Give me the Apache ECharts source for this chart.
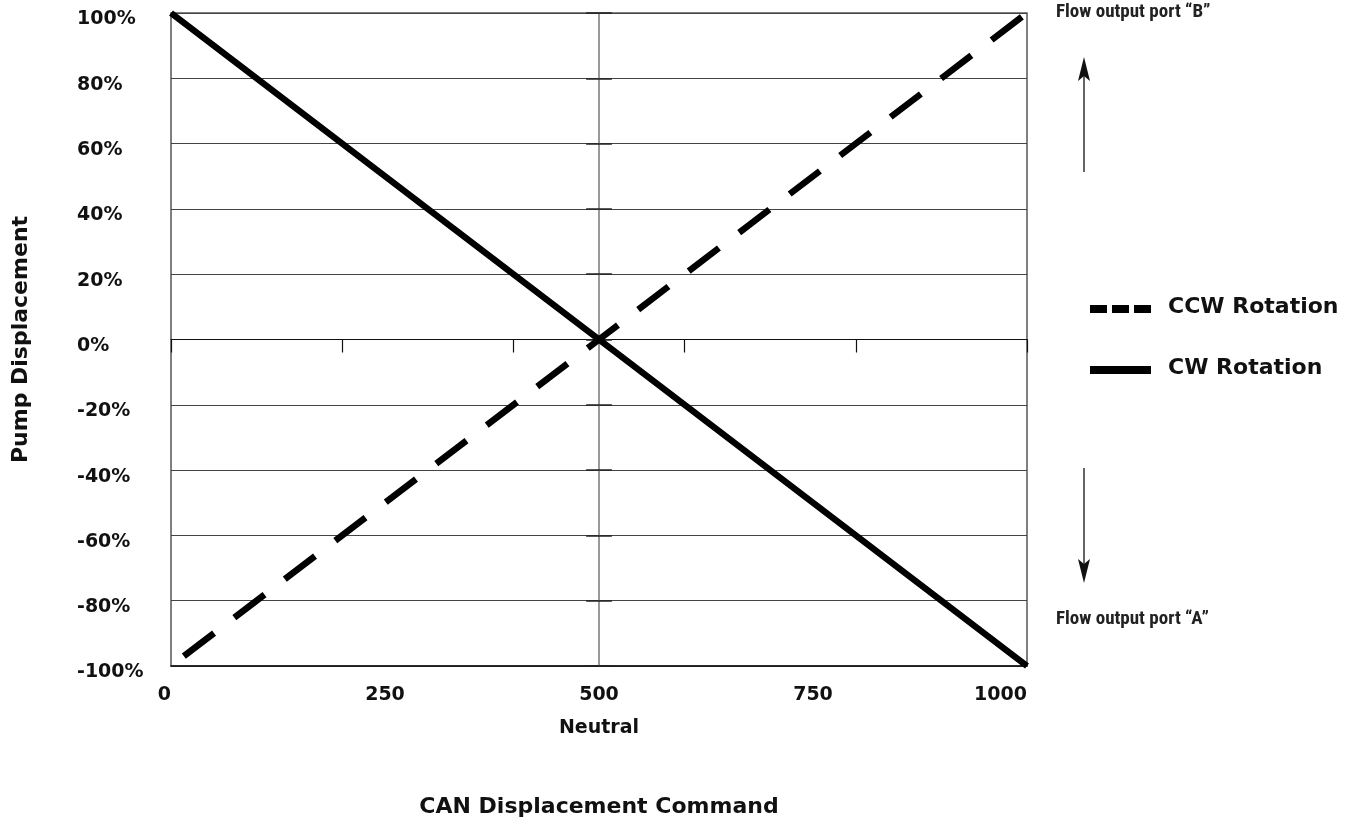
<!DOCTYPE html>
<html><head><meta charset="utf-8">
<script src="https://cdn.jsdelivr.net/npm/echarts@6/dist/echarts.min.js"></script>
<style>html,body{margin:0;padding:0;background:#fff}#c{width:1347px;height:824px}</style>
</head><body><div id="c"></div>
<script>
const seriesNames = ['CCW Rotation', 'CW Rotation'];
const ccwX = [15, 500, 1000];
const ccwY = [-97, 0, 100];
const cwX = [0, 500, 1000];
const cwY = [100, 0, -100];
const xTickLabels = [0, 250, 500, 750, 1000];
const yTickLabels = [-100, -80, -60, -40, -20, 0, 20, 40, 60, 80, 100];
const neutralValue = 500;
const neutralLabel = 'Neutral';
const xTitle = 'CAN Displacement Command';
const yTitle = 'Pump Displacement';
const portB = 'Flow output port \u201cB\u201d';
const portA = 'Flow output port \u201cA\u201d';

const FONT = '"DejaVu Sans", sans-serif';
const NARROW = '"Liberation Sans Narrow", "Roboto Condensed", sans-serif';
const chart = echarts.init(document.getElementById('c'));
const pair = (xs, ys) => xs.map((x, i) => [x, ys[i]]);
const neutralTicks = yTickLabels.map(v => [{ coord: [neutralValue - 15, v] }, { coord: [neutralValue + 15, v] }]);

chart.setOption({
  animation: false,
  grid: { left: 171, right: 320, top: 13, bottom: 158, show: true, borderColor: '#555', borderWidth: 1.5 },
  xAxis: [{
    type: 'value', min: xTickLabels[0], max: xTickLabels[xTickLabels.length - 1], interval: 250,
    axisLine: { onZero: false, lineStyle: { color: '#111', width: 1.5 } },
    axisTick: { show: false }, splitLine: { show: false },
    axisLabel: {
      margin: 13, fontFamily: FONT, fontWeight: 'bold', fontSize: 19, color: '#111', lineHeight: 33,
      alignMinLabel: 'right', alignMaxLabel: 'right',
      formatter: v => v === neutralValue ? v + '\n' + neutralLabel : String(v)
    },
    name: xTitle, nameLocation: 'middle', nameGap: 130,
    nameTextStyle: { fontFamily: FONT, fontWeight: 'bold', fontSize: 22, color: '#111' }
  }, {
    type: 'value', min: 0, max: 1000, interval: 200, position: 'bottom',
    axisLine: { show: true, onZero: true, lineStyle: { color: '#111', width: 1.2 } },
    axisTick: { show: true, inside: false, length: 13, lineStyle: { color: '#111', width: 1.2 } },
    axisLabel: { show: false }, splitLine: { show: false }
  }],
  yAxis: {
    type: 'value', min: yTickLabels[0], max: yTickLabels[yTickLabels.length - 1], interval: 20,
    axisLine: { show: false }, axisTick: { show: false },
    splitLine: { lineStyle: { color: '#444', width: 1.2 } },
    axisLabel: {
      margin: 94, align: 'left',
      formatter: v => '{a|' + v + '%}',
      rich: { a: { padding: [13, 0, 0, 0], fontFamily: FONT, fontWeight: 'bold', fontSize: 19, color: '#111', align: 'left' } }
    },
    name: yTitle, nameLocation: 'middle', nameGap: 139, nameRotate: 90,
    nameTextStyle: { fontFamily: FONT, fontWeight: 'bold', fontSize: 22, color: '#111' }
  },
  series: [
    {
      name: seriesNames[0], type: 'line', symbol: 'none', data: pair(ccwX, ccwY),
      lineStyle: { color: '#000', width: 6.5, type: [38, 25.5], cap: 'butt' }, z: 5
    },
    {
      name: seriesNames[1], type: 'line', symbol: 'none', data: pair(cwX, cwY),
      lineStyle: { color: '#000', width: 6.5, cap: 'butt' }, z: 6,
      markLine: {
        silent: true, symbol: 'none', label: { show: false },
        lineStyle: { color: '#777', width: 1.5, type: 'solid' },
        data: [{ xAxis: neutralValue }].concat(neutralTicks.map(s => [
          Object.assign({ lineStyle: { color: '#222', width: 1.5, type: 'solid' } }, s[0]), s[1]
        ]))
      }
    }
  ],
  graphic: [
    { type: 'line', shape: { x1: 1090, y1: 309, x2: 1151, y2: 309 }, style: { stroke: '#000', lineWidth: 8, lineDash: [17, 5] } },
    { type: 'text', left: 1168, top: 296, style: { text: seriesNames[0], fontFamily: FONT, fontWeight: 'bold', fontSize: 22, fill: '#111' } },
    { type: 'line', shape: { x1: 1090, y1: 370, x2: 1151, y2: 370 }, style: { stroke: '#000', lineWidth: 8 } },
    { type: 'text', left: 1168, top: 357, style: { text: seriesNames[1], fontFamily: FONT, fontWeight: 'bold', fontSize: 22, fill: '#111' } },
    { type: 'text', left: 1056, top: 3, style: { text: portB, fontFamily: NARROW, fontWeight: 'bold', fontSize: 19, fill: '#222' } },
    { type: 'text', left: 1056, top: 610, style: { text: portA, fontFamily: NARROW, fontWeight: 'bold', fontSize: 19, fill: '#222' } },
    { type: 'line', shape: { x1: 1084, y1: 172, x2: 1084, y2: 70 }, style: { stroke: '#111', lineWidth: 1.3 } },
    { type: 'polygon', shape: { points: [[1084, 57], [1078, 81], [1084, 76], [1090, 81]] }, style: { fill: '#111' } },
    { type: 'line', shape: { x1: 1084, y1: 468, x2: 1084, y2: 572 }, style: { stroke: '#111', lineWidth: 1.3 } },
    { type: 'polygon', shape: { points: [[1084, 583], [1078, 559], [1084, 564], [1090, 559]] }, style: { fill: '#111' } }
  ]
});
</script></body></html>
